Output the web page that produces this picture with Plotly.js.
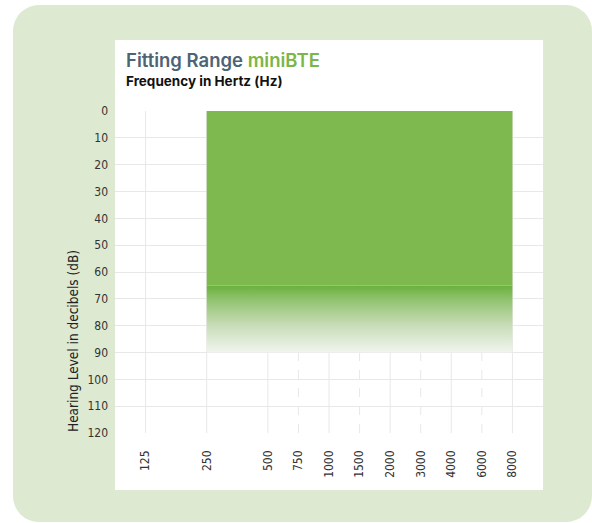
<!DOCTYPE html>
<html>
<head>
<meta charset="utf-8">
<script src="https://cdn.plot.ly/plotly-3.0.1.min.js"></script>
<style>
  html, body { margin: 0; padding: 0; background: #ffffff; }
  #wrap { position: relative; width: 592px; height: 523px; overflow: hidden; background: #ffffff; }
  #panel { position: absolute; left: 13px; top: 5px; width: 579px; height: 517px; background: #dde9d1; border-radius: 26px; }
  #card { position: absolute; left: 115px; top: 40px; width: 428px; height: 450px; background: #ffffff; }
  #chart { position: absolute; left: 0; top: 0; width: 592px; height: 523px; }
</style>
</head>
<body>
<div id="wrap">
  <div id="panel"></div>
  <div id="card"></div>
  <div id="chart"></div>
</div>
<script>
// ---- data ----
const frequencies = [125, 250, 500, 750, 1000, 1500, 2000, 3000, 4000, 6000, 8000];
const freqLabels = ['125', '250', '500', '750', '1000', '1500', '2000', '3000', '4000', '6000', '8000'];
const levelTicks = [0, 10, 20, 30, 40, 50, 60, 70, 80, 90, 100, 110, 120];
const fittingFreqRange = [250, 8000];      // Hz
const fittingSolidLevels = [0, 65];        // dB HL, solid range
const fittingFadeLevels = [65, 90];        // dB HL, fading range

// audiogram position: octaves above 125 Hz, half-octave labels placed mid-octave
function freqPos(f) {
  const k = Math.floor(Math.log2(f / 125) + 1e-9);
  return k + (f / (125 * Math.pow(2, k)) - 1);
}
const tickPos = frequencies.map(freqPos);

const x0 = freqPos(fittingFreqRange[0]);
const x1 = freqPos(fittingFreqRange[1]);

const traces = [
  {
    type: 'scatter', mode: 'lines',
    x: [x0, x1, x1, x0, x0],
    y: [fittingSolidLevels[0], fittingSolidLevels[0], fittingSolidLevels[1], fittingSolidLevels[1], fittingSolidLevels[0]],
    fill: 'toself', fillcolor: '#7db94f',
    line: { width: 0, color: 'rgba(0,0,0,0)' },
    hoverinfo: 'skip', showlegend: false
  },
  {
    type: 'scatter', mode: 'lines',
    x: [x0, x1, x1, x0, x0],
    y: [fittingFadeLevels[0], fittingFadeLevels[0], fittingFadeLevels[1], fittingFadeLevels[1], fittingFadeLevels[0]],
    fill: 'toself',
    fillgradient: {
      type: 'vertical',
      start: fittingFadeLevels[1], stop: fittingFadeLevels[0],
      colorscale: [[0, '#f1f5ee'], [0.4, '#c9ddb9'], [0.8, '#8fc26c'], [1, '#69b13c']]
    },
    line: { width: 0, color: 'rgba(0,0,0,0)' },
    hoverinfo: 'skip', showlegend: false
  }
];

const shapes = frequencies.map(function (f) {
  const p = freqPos(f);
  const isOctave = Math.abs(p - Math.round(p)) < 1e-9;
  return {
    type: 'line', layer: 'below',
    xref: 'x', yref: 'paper', x0: p, x1: p, y0: 0, y1: 1,
    line: { color: '#e8e8e8', width: 1, dash: isOctave ? 'solid' : 'dash' }
  };
});

const tickFont = { family: 'DejaVu Sans Condensed, Roboto, sans-serif', size: 12, color: '#333333' };

const layout = {
  width: 592, height: 523,
  margin: { l: 115, r: 49, t: 111, b: 90 },
  paper_bgcolor: 'rgba(0,0,0,0)',
  plot_bgcolor: 'rgba(0,0,0,0)',
  showlegend: false,
  xaxis: {
    range: [-0.5, 6.5],
    tickmode: 'array', tickvals: tickPos, ticktext: freqLabels,
    tickangle: -90, tickfont: tickFont,
    showgrid: false, zeroline: false, showline: false,
    ticks: '', ticklabelstandoff: 14,
    fixedrange: true
  },
  yaxis: {
    range: [120, 0],
    tickmode: 'array', tickvals: levelTicks, ticktext: levelTicks.map(String),
    tickfont: tickFont,
    showgrid: true, gridcolor: '#e8e8e8', gridwidth: 1,
    zeroline: false, showline: false,
    ticks: '', ticklabelstandoff: 6,
    fixedrange: true
  },
  shapes: shapes,
  annotations: [
    {
      xref: 'paper', yref: 'paper', x: 9 / 428, y: 1.158,
      xanchor: 'left', yanchor: 'middle', showarrow: false,
      text: "Fitting Range <span style='color:#7ab648'>miniBTE</span>",
      font: { family: 'Inter, Open Sans, sans-serif', size: 18.5, weight: 600, color: '#4e6374' }
    },
    {
      xref: 'paper', yref: 'paper', x: 9 / 428, y: 1.093,
      xanchor: 'left', yanchor: 'middle', showarrow: false,
      text: 'Frequency in Hertz (Hz)',
      font: { family: 'Inter, Open Sans, sans-serif', size: 13.5, weight: 700, color: '#111111' }
    },
    {
      xref: 'paper', yref: 'paper', x: -42 / 428, y: 92 / 322,
      xanchor: 'center', yanchor: 'middle', showarrow: false,
      textangle: -90,
      text: 'Hearing Level in decibels (dB)',
      font: { family: 'DejaVu Sans Condensed, Roboto, sans-serif', size: 13.5, color: '#222222' }
    }
  ]
};

Plotly.newPlot('chart', traces, layout, { staticPlot: true, displayModeBar: false });
</script>
</body>
</html>
